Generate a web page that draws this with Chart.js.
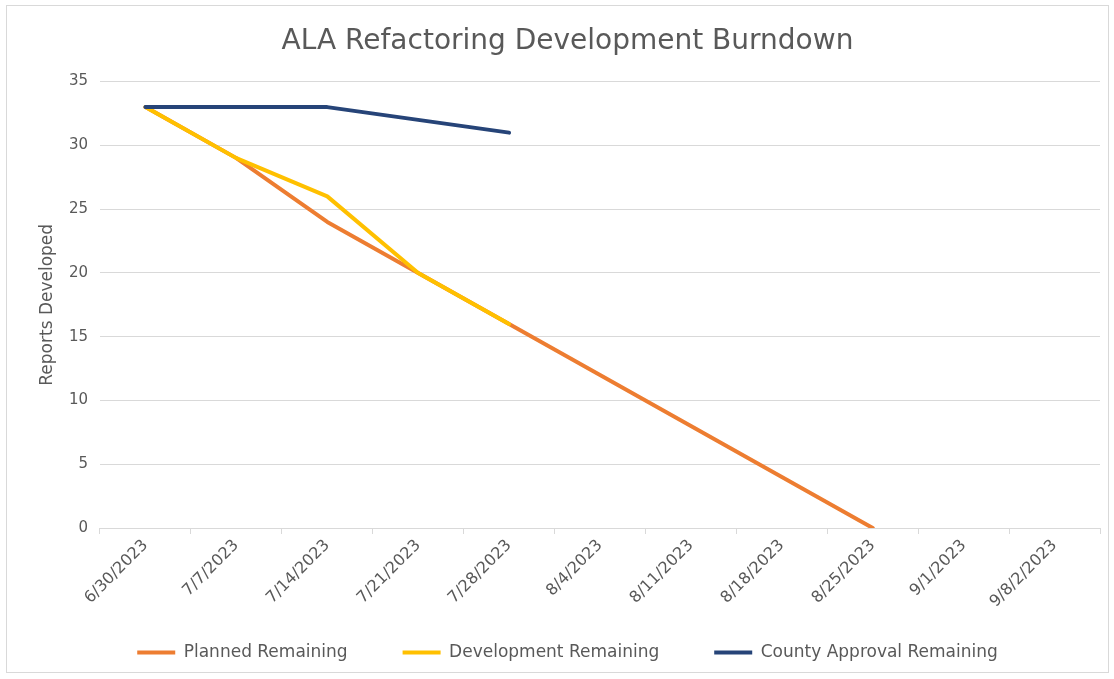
<!DOCTYPE html>
<html>
<head>
<meta charset="utf-8">
<script src="https://cdn.jsdelivr.net/npm/chart.js@4"></script>
<style>
  html, body { margin: 0; padding: 0; background: #fff; }
  #wrap { width: 1114px; height: 679px; position: relative; }
</style>
</head>
<body>
<div id="wrap"><canvas id="burndown"></canvas></div>
<script>
const DATES = ['6/30/2023', '7/7/2023', '7/14/2023', '7/21/2023', '7/28/2023', '8/4/2023',
    '8/11/2023', '8/18/2023', '8/25/2023', '9/1/2023', '9/8/2/2023'];
const PLANNED = [33, 29, 24, 20, 16, 12, 8, 4, 0, null, null];
const DEVELOPMENT = [33, 29, 26, 20, 16, null, null, null, null, null, null];
const COUNTY = [33, 33, 33, 32, 31, null, null, null, null, null, null];
const Y_TICKS = [0, 5, 10, 15, 20, 25, 30, 35];

const FONT = '"DejaVu Sans", sans-serif';
const GREY = '#595959';

const frame = {
    id: 'frame',
    beforeDraw(chart) {
        const c = chart.ctx;
        c.save();
        c.fillStyle = '#fff';
        c.fillRect(0, 0, chart.width, chart.height);
        c.strokeStyle = '#d9d9d9';
        c.lineWidth = 1;
        c.strokeRect(6.5, 5.5, 1102, 667);
        c.restore();
    },
};

new Chart(document.getElementById('burndown'), {
    type: 'line',
    data: {
        labels: DATES,
        datasets: [
            { label: 'Planned Remaining', data: PLANNED, borderColor: '#ED7D31', backgroundColor: '#ED7D31', order: 3 },
            { label: 'Development Remaining', data: DEVELOPMENT, borderColor: '#FFC000', backgroundColor: '#FFC000', order: 2 },
            { label: 'County Approval Remaining', data: COUNTY, borderColor: '#264478', backgroundColor: '#264478', order: 1 },
        ],
    },
    options: {
        responsive: true,
        maintainAspectRatio: false,
        animation: false,
        elements: {
            line: { borderWidth: 4, tension: 0, borderCapStyle: 'round', borderJoinStyle: 'round' },
            point: { radius: 0, hoverRadius: 0 },
        },
        layout: { padding: { left: 35, right: 14, top: 10, bottom: 8 } },
        scales: {
            x: {
                offset: true,
                grid: { offset: true, drawOnChartArea: false, drawTicks: true, tickLength: 6, color: '#d9d9d9' },
                border: { display: false },
                ticks: { color: GREY, font: { family: FONT, size: 16 }, minRotation: 45, maxRotation: 45, padding: 2, autoSkip: false },
                afterFit(scale) {
                    scale.height = 61;
                    // the rotated labels run past the box, into the legend's padding
                    scale._computeLabelArea = () => undefined;
                },
            },
            y: {
                min: 0,
                max: 35,
                afterBuildTicks(scale) { scale.ticks = Y_TICKS.map(v => ({ value: v })); },
                grid: { color: '#d9d9d9', drawTicks: false, lineWidth: 1 },
                border: { display: false },
                ticks: { color: GREY, font: { family: FONT, size: 15 }, padding: 12 },
                title: { display: true, text: 'Reports Developed', color: GREY, font: { family: FONT, size: 17 }, padding: 2 },
                afterFit(scale) { scale.width = 65; },
            },
        },
        plugins: {
            title: {
                display: true,
                text: 'ALA Refactoring Development Burndown',
                color: GREY,
                font: { family: FONT, size: 28, weight: 'normal' },
                padding: { top: 15, bottom: 23 },
            },
            legend: {
                position: 'bottom',
                labels: {
                    color: GREY,
                    font: { family: FONT, size: 17 },
                    boxWidth: 38,
                    boxHeight: 0,
                    padding: 55,
                    generateLabels(chart) {
                        return chart.data.datasets.map((ds, i) => ({
                            text: ds.label,
                            fillStyle: ds.borderColor,
                            strokeStyle: ds.borderColor,
                            lineWidth: 4,
                            hidden: false,
                            datasetIndex: i,
                            fontColor: GREY,
                        }));
                    },
                },
            },
            tooltip: { enabled: false },
        },
    },
    plugins: [frame],
});
</script>
</body>
</html>
